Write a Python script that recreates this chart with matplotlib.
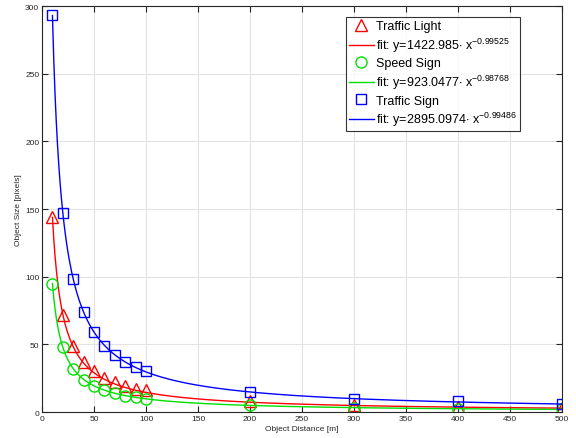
import numpy as np
import matplotlib
matplotlib.use("Agg")
import matplotlib.pyplot as plt

plt.rcParams["font.family"] = ["Liberation Sans", "DejaVu Sans"]
plt.rcParams["mathtext.fontset"] = "custom"
plt.rcParams["mathtext.rm"] = "Liberation Sans"

distance = [10, 20, 30, 40, 50, 60, 70, 80, 90, 100, 200, 300, 400, 500]
traffic_light = [144, 72, 49, 37, 30, 25, 22, 19, 17, 16, 8, 5, 4, 3]
speed_sign = [95, 48, 32, 24, 19, 16, 14, 12, 11, 10, 5, 3, 2, 2]
traffic_sign = [293, 147, 98, 74, 59, 49, 42, 37, 33, 30, 15, 10, 8, 6]

# power-law fits y = a * x^b, coefficients as printed in the legend
fit_light = ("1422.985", "-0.99525")
fit_speed = ("923.0477", "-0.98768")
fit_sign = ("2895.0974", "-0.99486")

axis_color = "#262626"

fig = plt.figure(figsize=(5.76, 4.39), dpi=100)
ax = fig.add_axes([0.073, 0.059, 0.903, 0.925])

xs = np.linspace(10, 500, 400)
series = [
    ("Traffic Light", traffic_light, fit_light, "red", "^", 8),
    ("Speed Sign", speed_sign, fit_speed, "#00e000", "o", 8),
    ("Traffic Sign", traffic_sign, fit_sign, "blue", "s", 6.5),
]
for name, ys, (a, b), color, marker, ms in series:
    ax.plot(distance, ys, linestyle="none", marker=marker, markersize=ms,
            markerfacecolor="none", markeredgecolor=color, markeredgewidth=1.0, label=name)
    ax.plot(xs, float(a) * xs ** float(b), color=color, linewidth=1.0,
            label=f"fit: y={a}$\\cdot$ x$^{{{b}}}$")

ax.set_xlim(0, 500)
ax.set_ylim(0, 300)
ax.set_xticks(np.arange(0, 501, 50))
ax.set_yticks(np.arange(0, 301, 50))
ax.grid(True, color="#e3e3e3", linewidth=0.8)
ax.set_axisbelow(True)
ax.tick_params(direction="in", top=True, right=True, labelsize=6, colors=axis_color,
               length=4, width=0.8, pad=2)
for sp in ax.spines.values():
    sp.set_color(axis_color)
    sp.set_linewidth(0.8)
ax.set_xlabel("Object Distance [m]", fontsize=6, color=axis_color, labelpad=2)
ax.set_ylabel("Object Size [pixels]", fontsize=6, color=axis_color, labelpad=2)

leg = ax.legend(loc="upper right", bbox_to_anchor=(0.926, 0.982), fontsize=9, frameon=True,
                fancybox=False, edgecolor="black", handlelength=2.0, handletextpad=0.15,
                borderpad=0.25, labelspacing=0.28, borderaxespad=0.3)
leg.get_frame().set_linewidth(0.8)

fig.savefig("out.png", dpi=100)
